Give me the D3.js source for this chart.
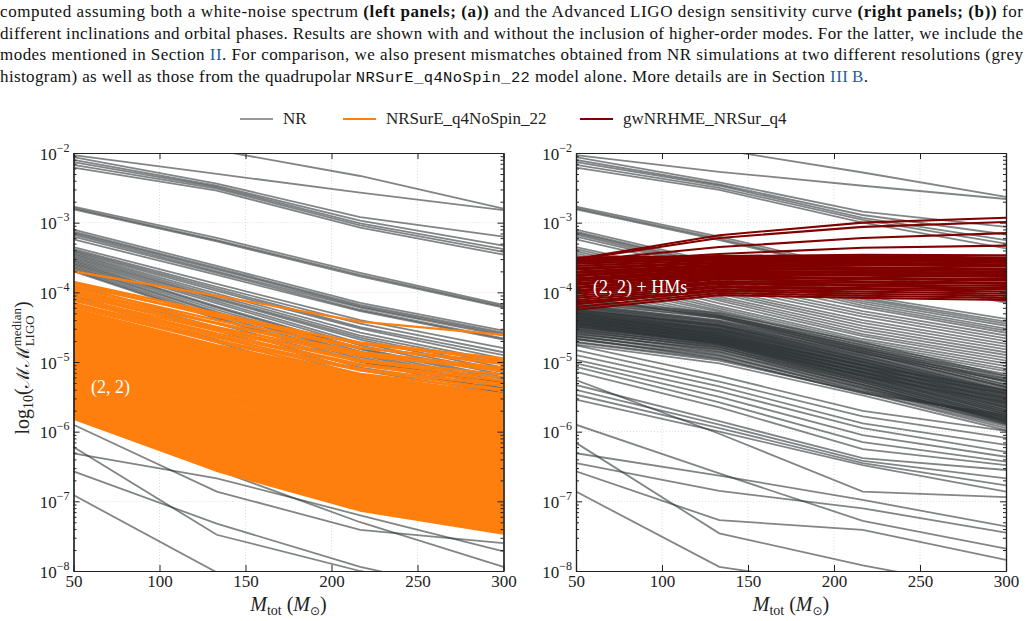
<!DOCTYPE html>
<html>
<head>
<meta charset="utf-8">
<script src="https://cdn.jsdelivr.net/npm/d3@7"></script>
<style>
  body { margin: 0; background: #fff; }
  svg { display: block; }
</style>
</head>
<body>
<svg id="fig" width="1029" height="621"></svg>
<script>
const serif = "'Liberation Serif', 'DejaVu Serif', serif";

// total masses at which the mismatches were computed
const massTotal = [50, 133.3, 216.7, 300];
const xTicks = [50, 100, 150, 200, 250, 300];
const yExponents = [-8, -7, -6, -5, -4, -3, -2];

// log10 mismatch, NR resolutions, white-noise PSD (left)
const nrWhite = [
  [-1.70, -1.96, -2.33, -2.80], [-2.03, -2.30, -2.57, -2.82], [-2.06, -2.44, -2.92, -3.20],
  [-2.10, -2.47, -2.97, -3.33], [-2.13, -2.49, -3.01, -3.38], [-2.17, -2.51, -3.04, -3.42],
  [-2.21, -2.54, -3.07, -3.46], [-2.77, -3.22, -3.72, -4.18], [-2.79, -3.25, -3.75, -4.20],
  [-2.81, -3.27, -3.77, -4.22], [-3.10, -3.62, -4.15, -4.55], [-3.13, -3.65, -4.18, -4.58],
  [-3.15, -3.67, -4.20, -4.60], [-3.17, -3.70, -4.22, -4.62], [-3.20, -3.72, -4.25, -4.66],
  [-3.24, -3.75, -4.27, -4.68], [-3.35, -3.88, -4.40, -4.80], [-3.38, -3.92, -4.45, -4.86],
  [-3.40, -3.95, -4.50, -4.90], [-3.42, -3.98, -4.52, -4.95], [-3.44, -4.02, -4.58, -5.00],
  [-3.46, -4.05, -4.62, -5.03], [-3.48, -4.08, -4.65, -5.08], [-3.50, -4.10, -4.68, -5.12],
  [-3.52, -4.13, -4.73, -5.15], [-3.54, -4.16, -4.76, -5.18], [-3.56, -4.20, -4.80, -5.22],
  [-3.58, -4.22, -4.82, -5.25], [-3.60, -4.25, -4.85, -5.28], [-3.62, -4.28, -4.88, -5.31],
  [-3.64, -4.30, -4.90, -5.35], [-3.66, -4.33, -4.93, -5.38], [-3.68, -4.36, -4.96, -5.42],
  [-3.70, -4.38, -4.99, -5.45], [-3.90, -4.45, -5.00, -5.30], [-3.95, -4.50, -5.08, -5.38],
  [-4.00, -4.55, -5.12, -5.45], [-4.05, -4.62, -5.18, -5.50], [-4.10, -4.68, -5.22, -5.55],
  [-4.15, -4.72, -5.28, -5.60], [-4.25, -4.80, -5.35, -5.66], [-4.40, -4.95, -5.45, -5.75],
  [-4.55, -5.10, -5.55, -5.85], [-4.75, -5.30, -5.75, -6.05],
  [-5.90, -6.86, -7.41, -7.60], [-6.31, -6.67, -7.20, -7.72], [-5.75, -6.55, -7.30, -7.94],
  [-6.22, -7.48, -8.00, -8.40], [-6.57, -7.32, -7.94, -8.40], [-6.91, -8.02, -8.80, -9.40]
];

// log10 mismatch, NR resolutions, Advanced LIGO PSD (right)
const nrALIGO = [
  [-1.70, -1.95, -2.28, -2.63], [-2.03, -2.27, -2.47, -2.66], [-2.06, -2.42, -2.84, -3.06],
  [-2.10, -2.45, -2.89, -3.17], [-2.13, -2.47, -2.93, -3.25], [-2.17, -2.50, -2.96, -3.30],
  [-2.21, -2.53, -3.00, -3.37], [-2.77, -3.20, -3.68, -4.10], [-2.79, -3.23, -3.71, -4.13],
  [-2.81, -3.25, -3.73, -4.15], [-3.10, -3.58, -4.05, -4.38], [-3.13, -3.61, -4.08, -4.42],
  [-3.15, -3.63, -4.10, -4.45], [-3.17, -3.66, -4.13, -4.48], [-3.20, -3.68, -4.16, -4.52],
  [-3.24, -3.71, -4.19, -4.55], [-3.35, -3.80, -4.22, -4.58], [-3.38, -3.84, -4.27, -4.62],
  [-3.41, -3.88, -4.31, -4.66], [-3.44, -3.92, -4.35, -4.70], [-3.47, -3.96, -4.40, -4.74],
  [-3.50, -3.99, -4.44, -4.78], [-3.53, -4.02, -4.48, -4.82], [-3.56, -4.06, -4.52, -4.86],
  [-3.59, -4.09, -4.56, -4.90], [-3.62, -4.12, -4.60, -4.94], [-3.66, -4.16, -4.63, -4.98],
  [-3.70, -4.20, -4.67, -5.02], [-3.75, -4.23, -4.70, -5.06], [-3.80, -4.26, -4.73, -5.10],
  [-3.85, -4.28, -4.76, -5.13], [-3.90, -4.31, -4.79, -5.17], [-3.95, -4.33, -4.82, -5.20],
  [-4.00, -4.35, -4.85, -5.24], [-4.05, -4.37, -4.88, -5.27], [-4.10, -4.30, -4.72, -5.20],
  [-4.12, -4.34, -4.75, -5.23], [-4.15, -4.37, -4.78, -5.26], [-4.18, -4.40, -4.81, -5.29],
  [-4.20, -4.42, -4.84, -5.32], [-4.22, -4.44, -4.87, -5.35], [-4.24, -4.47, -4.90, -5.38],
  [-4.26, -4.49, -4.93, -5.41], [-4.28, -4.52, -4.96, -5.44], [-4.30, -4.54, -4.99, -5.47],
  [-4.32, -4.56, -5.01, -5.50], [-4.34, -4.58, -5.04, -5.53], [-4.36, -4.60, -5.06, -5.56],
  [-4.38, -4.62, -5.09, -5.59], [-4.40, -4.64, -5.11, -5.62], [-4.42, -4.66, -5.14, -5.65],
  [-4.44, -4.68, -5.16, -5.68], [-4.46, -4.70, -5.19, -5.71], [-4.48, -4.72, -5.21, -5.74],
  [-4.50, -4.74, -5.24, -5.77], [-4.53, -4.76, -5.26, -5.80], [-4.56, -4.79, -5.29, -5.83],
  [-4.60, -4.83, -5.32, -5.86], [-4.64, -4.88, -5.36, -5.88], [-4.68, -4.93, -5.40, -5.90],
  [-4.72, -4.98, -5.44, -5.95], [-4.75, -5.02, -5.48, -5.98],
  [-4.11, -4.33, -4.80, -5.28], [-4.14, -4.36, -4.83, -5.33], [-4.17, -4.41, -4.86, -5.36],
  [-4.19, -4.43, -4.91, -5.40], [-4.21, -4.46, -4.95, -5.43], [-4.23, -4.48, -4.97, -5.46],
  [-4.25, -4.50, -5.00, -5.49], [-4.27, -4.53, -5.02, -5.52], [-4.29, -4.55, -5.05, -5.55],
  [-4.31, -4.57, -5.07, -5.58], [-4.33, -4.59, -5.10, -5.61], [-4.35, -4.61, -5.12, -5.64],
  [-4.37, -4.63, -5.15, -5.66], [-4.39, -4.65, -5.17, -5.69], [-4.41, -4.67, -5.20, -5.72],
  [-4.43, -4.69, -5.22, -5.75], [-4.45, -4.71, -5.25, -5.78], [-4.47, -4.73, -5.27, -5.81],
  [-4.49, -4.75, -5.30, -5.84], [-4.52, -4.78, -5.33, -5.87], [-4.55, -4.81, -5.35, -5.85],
  [-4.58, -4.85, -5.38, -5.82], [-4.62, -4.90, -5.42, -5.79], [-4.66, -4.95, -5.45, -5.76],
  [-4.26, -4.46, -4.88, -5.36], [-4.28, -4.48, -4.92, -5.42], [-4.30, -4.51, -4.95, -5.45],
  [-4.33, -4.53, -4.98, -5.48], [-4.35, -4.55, -5.00, -5.51], [-4.37, -4.58, -5.03, -5.54],
  [-4.39, -4.60, -5.05, -5.57], [-4.41, -4.63, -5.08, -5.60], [-4.43, -4.65, -5.10, -5.63],
  [-4.45, -4.67, -5.13, -5.66], [-4.47, -4.69, -5.15, -5.69], [-4.49, -4.71, -5.18, -5.72],
  [-4.51, -4.73, -5.20, -5.75], [-4.54, -4.76, -5.23, -5.78], [-4.57, -4.79, -5.26, -5.81],
  [-4.60, -4.82, -5.29, -5.84], [-4.63, -4.86, -5.33, -5.86], [-4.67, -4.91, -5.38, -5.89],
  [-4.71, -4.96, -5.43, -5.92], [-4.30, -4.62, -5.05, -5.40], [-4.35, -4.66, -5.10, -5.45],
  [-4.40, -4.70, -5.15, -5.52], [-4.45, -4.74, -5.20, -5.58],
  [-4.76, -5.20, -5.70, -5.99], [-4.83, -5.28, -5.78, -6.09], [-4.90, -5.35, -5.88, -6.19],
  [-4.97, -5.42, -5.95, -6.29], [-5.02, -5.50, -6.05, -6.36], [-5.07, -5.58, -6.15, -6.43],
  [-5.14, -5.65, -6.25, -6.48], [-5.33, -5.85, -6.38, -6.55], [-5.40, -5.90, -6.42, -6.67],
  [-5.47, -5.95, -6.45, -6.77], [-5.54, -6.00, -6.48, -6.86], [-5.26, -6.03, -6.86, -6.94],
  [-5.90, -6.60, -7.28, -7.68], [-6.16, -7.46, -7.92, -8.30], [-6.31, -6.63, -6.98, -7.36],
  [-6.57, -7.27, -7.41, -7.84], [-6.86, -7.94, -8.25, -8.60], [-6.45, -6.85, -7.10, -7.45]
];

// log10 mismatch, NRSurE_q4NoSpin_22 (left, orange)
const sur22White = [
  [-3.70, -4.05, -4.42, -4.61], [-3.85, -4.30, -4.74, -4.97], [-3.87, -4.35, -4.72, -4.95],
  [-3.90, -4.33, -4.79, -5.03], [-3.93, -4.40, -4.80, -5.00], [-3.96, -4.44, -4.86, -5.08],
  [-3.99, -4.45, -4.88, -5.13], [-4.01, -4.50, -4.91, -5.10], [-4.04, -4.52, -4.97, -5.18],
  [-4.08, -4.55, -4.99, -5.23], [-4.10, -4.59, -5.03, -5.27], [-4.12, -4.62, -5.05, -5.31],
  [-4.16, -4.65, -5.10, -5.34], [-4.18, -4.69, -5.12, -5.39], [-4.21, -4.71, -5.17, -5.41],
  [-4.24, -4.76, -5.19, -5.46], [-4.27, -4.78, -5.23, -5.49], [-4.29, -4.83, -5.26, -5.53],
  [-4.33, -4.85, -5.31, -5.56], [-4.35, -4.89, -5.33, -5.61], [-4.38, -4.91, -5.37, -5.63],
  [-4.41, -4.96, -5.40, -5.68], [-4.44, -4.98, -5.44, -5.70], [-4.47, -5.01, -5.46, -5.75],
  [-4.49, -5.06, -5.51, -5.78], [-4.52, -5.08, -5.53, -5.82], [-4.56, -5.11, -5.58, -5.85],
  [-4.58, -5.15, -5.60, -5.89], [-4.60, -5.17, -5.65, -5.92], [-4.64, -5.22, -5.68, -5.97],
  [-4.66, -5.24, -5.72, -5.99], [-4.70, -5.27, -5.74, -6.04], [-4.72, -5.32, -5.79, -6.07],
  [-4.75, -5.34, -5.81, -6.11], [-4.77, -5.38, -5.86, -6.14], [-4.81, -5.40, -5.88, -6.19],
  [-4.83, -5.45, -5.93, -6.21], [-4.86, -5.47, -5.95, -6.26], [-4.90, -5.51, -6.00, -6.29],
  [-4.91, -5.53, -6.02, -6.33], [-4.95, -5.58, -6.07, -6.36], [-4.97, -5.60, -6.09, -6.41],
  [-5.01, -5.64, -6.14, -6.43], [-5.03, -5.66, -6.16, -6.48], [-5.06, -5.71, -6.21, -6.51],
  [-5.08, -5.73, -6.23, -6.55], [-5.12, -5.77, -6.28, -6.58], [-5.14, -5.79, -6.30, -6.63],
  [-5.18, -5.84, -6.35, -6.65], [-5.19, -5.86, -6.37, -6.70], [-5.23, -5.90, -6.42, -6.73],
  [-5.25, -5.92, -6.44, -6.77], [-5.29, -5.97, -6.49, -6.80], [-5.31, -5.99, -6.51, -6.85],
  [-5.34, -6.03, -6.56, -6.87], [-5.36, -6.05, -6.58, -6.92], [-5.40, -6.10, -6.63, -6.95],
  [-5.42, -6.12, -6.65, -6.99], [-5.46, -6.16, -6.70, -7.02], [-5.47, -6.18, -6.72, -7.07],
  [-5.51, -6.23, -6.77, -7.09], [-5.53, -6.25, -6.79, -7.14], [-5.57, -6.29, -6.84, -7.17],
  [-5.59, -6.31, -6.86, -7.21], [-5.62, -6.36, -6.91, -7.24], [-5.64, -6.38, -6.93, -7.29],
  [-5.68, -6.42, -6.98, -7.31], [-5.70, -6.44, -7.00, -7.36], [-5.74, -6.49, -7.05, -7.38],
  [-5.76, -6.51, -7.08, -7.43], [-5.80, -6.55, -7.12, -7.45]
];

// log10 mismatch, gwNRHME_NRSur_q4 (right, dark red)
const hmALIGO = [
  [-3.52, -3.18, -3.00, -2.93], [-3.53, -3.22, -3.06, -2.99], [-3.55, -3.35, -3.22, -3.15],
  [-3.57, -3.45, -3.36, -3.33],
  [-3.50, -3.48, -3.46, -3.47], [-3.53, -3.50, -3.48, -3.50], [-3.56, -3.51, -3.50, -3.52],
  [-3.59, -3.52, -3.52, -3.54], [-3.62, -3.54, -3.53, -3.56], [-3.65, -3.56, -3.55, -3.58],
  [-3.67, -3.58, -3.57, -3.60], [-3.70, -3.60, -3.59, -3.61], [-3.72, -3.62, -3.61, -3.63],
  [-3.75, -3.63, -3.64, -3.66], [-3.77, -3.65, -3.66, -3.68], [-3.80, -3.67, -3.68, -3.70],
  [-3.82, -3.69, -3.70, -3.72], [-3.84, -3.71, -3.72, -3.74], [-3.87, -3.73, -3.74, -3.76],
  [-3.89, -3.75, -3.76, -3.78], [-3.92, -3.77, -3.79, -3.81], [-3.94, -3.79, -3.81, -3.83],
  [-3.97, -3.81, -3.84, -3.86], [-3.99, -3.84, -3.86, -3.88], [-4.02, -3.86, -3.89, -3.91],
  [-4.05, -3.88, -3.91, -3.94], [-4.08, -3.91, -3.94, -3.96], [-4.11, -3.93, -3.96, -3.99],
  [-4.14, -3.96, -3.99, -4.02], [-4.17, -3.98, -4.02, -4.05], [-4.21, -4.01, -4.05, -4.08],
  [-4.25, -4.04, -4.08, -4.11]
];

const legendNames = ["NR", "NRSurE_q4NoSpin_22", "gwNRHME_NRSur_q4"];
const legendColors = ["#2e3436", "#ff7f0e", "#800000"];

const captionLines = [
  [["computed assuming both a white-noise spectrum ", ""], ["(left panels; (a))", "b"],
   [" and the Advanced LIGO design sensitivity curve ", ""], ["(right panels; (b))", "b"], [" for", ""]],
  [["different inclinations and orbital phases. Results are shown with and without the inclusion of higher-order modes. For the latter, we include the", ""]],
  [["modes mentioned in Section ", ""], ["II", "a"],
   [". For comparison, we also present mismatches obtained from NR simulations at two different resolutions (grey", ""]],
  [["histogram) as well as those from the quadrupolar ", ""], ["NRSurE_q4NoSpin_22", "m"],
   [" model alone. More details are in Section ", ""], ["III\u2009B", "a"], [".", ""]]
];
const captionWidths = [1023, 1023, 1023, 868];

const svg = d3.select("#fig");

// caption
captionLines.forEach(function(line, i) {
  const t = svg.append("text")
    .attr("x", 0).attr("y", 17 + i * 21.7)
    .attr("font-family", serif).attr("font-size", 17).attr("fill", "#111")
    .attr("textLength", captionWidths[i]).attr("lengthAdjust", "spacing");
  line.forEach(function(seg) {
    const s = t.append("tspan").text(seg[0]);
    if (seg[1] === "b") s.attr("font-weight", "bold");
    if (seg[1] === "a") s.attr("fill", "#2a5c9a");
    if (seg[1] === "m") s.attr("font-family", "'Liberation Mono', 'DejaVu Sans Mono', monospace").attr("font-size", 15.5);
  });
});

// legend
const legendX = [240, 343, 580];
legendNames.forEach(function(name, i) {
  svg.append("line")
    .attr("x1", legendX[i]).attr("x2", legendX[i] + 33)
    .attr("y1", 119).attr("y2", 119)
    .attr("stroke", legendColors[i]).attr("stroke-width", 2.2)
    .attr("stroke-opacity", i === 0 ? 0.5 : 1);
  svg.append("text")
    .attr("x", legendX[i] + 43).attr("y", 124)
    .attr("font-family", serif).attr("font-size", 17).attr("fill", "#222")
    .text(name);
});

const plotTop = 153, plotBottom = 571;

function drawPanel(left, nrLines, modelLines, modelColor, label, labelX, labelY, showYLabel) {
  const x = d3.scaleLinear().domain([50, 300]).range([left, left + 430]);
  const y = d3.scaleLog().domain([1e-8, 1e-2]).range([plotBottom, plotTop]);
  const g = svg.append("g");
  const clipId = "clip" + Math.round(left);

  g.append("clipPath").attr("id", clipId)
    .append("rect").attr("x", left).attr("y", plotTop).attr("width", 430).attr("height", plotBottom - plotTop);

  // grid
  g.append("g").selectAll("line").data(xTicks.slice(1, -1)).join("line")
    .attr("x1", d => x(d)).attr("x2", d => x(d)).attr("y1", plotTop).attr("y2", plotBottom)
    .attr("stroke", "#d4d4d4").attr("stroke-width", 0.8).attr("stroke-dasharray", "1,2");
  g.append("g").selectAll("line").data(yExponents.slice(1, -1)).join("line")
    .attr("x1", left).attr("x2", left + 430).attr("y1", d => y(Math.pow(10, d))).attr("y2", d => y(Math.pow(10, d)))
    .attr("stroke", "#d4d4d4").attr("stroke-width", 0.8).attr("stroke-dasharray", "1,2");

  const line = d3.line()
    .x((d, i) => x(massTotal[i]))
    .y(d => y(Math.pow(10, d)));

  const plot = g.append("g").attr("clip-path", "url(#" + clipId + ")");
  plot.append("g").selectAll("path").data(nrLines).join("path")
    .attr("d", line).attr("fill", "none")
    .attr("stroke", "#2e3436").attr("stroke-opacity", 0.6).attr("stroke-width", 1.8);
  plot.append("g").selectAll("path").data(modelLines).join("path")
    .attr("d", line).attr("fill", "none")
    .attr("stroke", modelColor)
    .attr("stroke-width", function(d, i) {
      if (modelColor === "#800000") return 2.1;
      if (i === 0) return 2.2;
      return i < 16 ? 2.4 : 4;
    })
    .attr("stroke-linejoin", "round");

  g.append("text").attr("x", labelX).attr("y", labelY)
    .attr("font-family", serif).attr("font-size", 18).attr("fill", "#fff").text(label);

  // axes with inward ticks
  const minor = [];
  yExponents.slice(0, -1).forEach(function(e) {
    for (let k = 2; k <= 9; k++) minor.push(k * Math.pow(10, e));
  });
  const major = yExponents.map(e => Math.pow(10, e));

  const yl = g.append("g").attr("transform", "translate(" + left + ",0)")
    .call(d3.axisLeft(y).tickValues(major).tickSize(-6).tickSizeOuter(0).tickPadding(4));
  yl.selectAll("text").each(function(d) {
    const t = d3.select(this).text(null).attr("font-size", 17).attr("fill", "#222")
      .attr("font-family", serif).attr("dy", "0.36em");
    t.append("tspan").text("10");
    t.append("tspan").attr("dy", -8).attr("font-size", 12).text("\u2212" + Math.round(-Math.log10(d)));
  });
  g.append("g").attr("transform", "translate(" + left + ",0)")
    .call(d3.axisLeft(y).tickValues(minor).tickSize(-3).tickSizeOuter(0).tickFormat(""));
  g.append("g").attr("transform", "translate(" + (left + 430) + ",0)")
    .call(d3.axisRight(y).tickValues(major).tickSize(-6).tickSizeOuter(0).tickFormat(""));
  g.append("g").attr("transform", "translate(" + (left + 430) + ",0)")
    .call(d3.axisRight(y).tickValues(minor).tickSize(-3).tickSizeOuter(0).tickFormat(""));

  const xb = g.append("g").attr("transform", "translate(0," + plotBottom + ")")
    .call(d3.axisBottom(x).tickValues(xTicks).tickSize(-6).tickSizeOuter(0).tickPadding(4));
  xb.selectAll("text").attr("font-size", 17).attr("fill", "#222").attr("font-family", serif);
  g.append("g").attr("transform", "translate(0," + plotTop + ")")
    .call(d3.axisTop(x).tickValues(xTicks).tickSize(-6).tickSizeOuter(0).tickFormat(""));

  g.selectAll(".domain").attr("stroke", "#222").attr("stroke-width", 1.2);
  g.selectAll(".tick line").attr("stroke", "#222");

  // x label
  const xl = g.append("text").attr("x", left + 215).attr("y", 611)
    .attr("text-anchor", "middle").attr("font-family", serif).attr("font-size", 20).attr("fill", "#222");
  xl.append("tspan").attr("font-style", "italic").text("M");
  xl.append("tspan").attr("font-size", 14).attr("dy", 4).text("tot");
  xl.append("tspan").attr("dy", -4).text(" (");
  xl.append("tspan").attr("font-style", "italic").text("M");
  xl.append("tspan").attr("font-size", 12).attr("dy", 4).attr("font-family", "'DejaVu Sans', sans-serif").text("\u2299");
  xl.append("tspan").attr("dy", -4).text(")");

  if (showYLabel) {
    const t = svg.append("text")
      .attr("transform", "translate(29," + ((plotTop + plotBottom) / 2 + 6) + ") rotate(-90)")
      .attr("text-anchor", "middle").attr("font-family", serif).attr("font-size", 20).attr("fill", "#222");
    t.append("tspan").text("log");
    t.append("tspan").attr("font-size", 14).attr("dy", 4).text("10");
    t.append("tspan").attr("dy", -4).text("(");
    t.append("tspan").attr("font-family", "'DejaVu Serif', serif").attr("font-size", 18).text("\u2133\u2133");
    const sup = t.append("tspan").attr("font-size", 13).attr("dy", -8).text("median");
    const w = sup.node().getComputedTextLength();
    const sub = t.append("tspan").attr("font-size", 13).attr("dy", 13).text("LIGO");
    const w2 = sub.node().getComputedTextLength();
    sub.attr("dx", -w);
    t.append("tspan").attr("dy", -5).attr("dx", Math.max(0, w - w2)).text(")");
  }
}

drawPanel(73.5, nrWhite, sur22White, "#ff7f0e", "(2, 2)", 91, 393, true);
drawPanel(576, nrALIGO, hmALIGO, "#800000", "(2, 2) + HMs", 593, 293, false);
</script>
</body>
</html>
